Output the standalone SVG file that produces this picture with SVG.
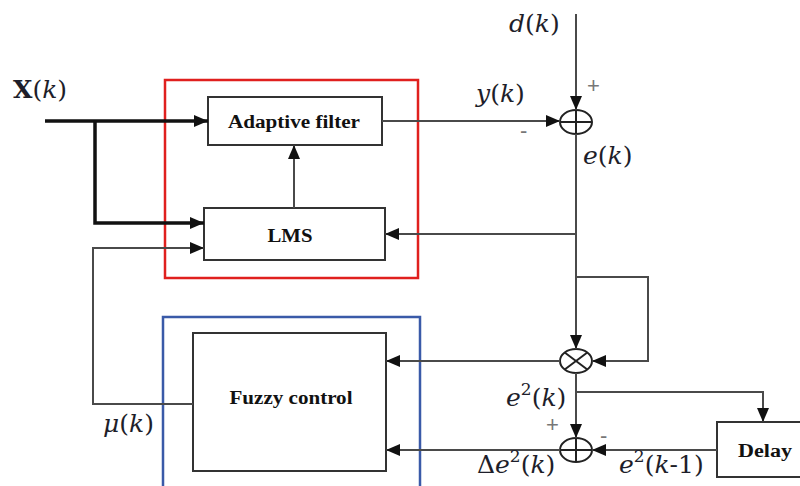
<svg xmlns="http://www.w3.org/2000/svg" width="800" height="486" viewBox="0 0 800 486">
<defs>
<marker id="ah" viewBox="0 0 14 12" refX="14" refY="6" markerWidth="14" markerHeight="12" markerUnits="userSpaceOnUse" orient="auto"><path d="M0,0 L14,6 L0,12 Z" fill="#111"/></marker>
<style>
.box{fill:#fff;stroke:#333;stroke-width:2}
.ln{fill:none;stroke:#4a4a4a;stroke-width:2}
.thick{fill:none;stroke:#111;stroke-width:3.5}
.bt{font-family:"Liberation Serif",serif;font-weight:bold;font-size:18px;fill:#111;text-anchor:middle}
.m{font-family:"DejaVu Serif","Liberation Serif",serif;font-style:italic;font-size:25px;fill:#1e1e2a}
.u{font-style:normal}
.sg{font-family:"Liberation Sans",sans-serif;font-size:22px;fill:#777}
</style>
</defs>
<rect width="800" height="486" fill="#fff"/>
<g id="lms-group"><rect x="165" y="80" width="253" height="198" fill="none" stroke="#e0201e" stroke-width="2.5"/></g>
<g id="fuzzy-group"><rect x="163" y="317" width="257" height="190" fill="none" stroke="#3a5aa8" stroke-width="2.5"/></g>
<g id="adaptive-filter"><rect class="box" x="208" y="97" width="174" height="48"/><text class="bt" x="294" y="128" textLength="132" lengthAdjust="spacingAndGlyphs">Adaptive filter</text></g>
<g id="lms"><rect class="box" x="204" y="208" width="181" height="52"/><text class="bt" x="290" y="242" textLength="45" lengthAdjust="spacingAndGlyphs">LMS</text></g>
<g id="fuzzy-control"><rect class="box" x="193" y="333" width="193" height="138"/><text class="bt" x="291" y="404" textLength="123" lengthAdjust="spacingAndGlyphs">Fuzzy control</text></g>
<g id="delay"><rect class="box" x="717" y="422" width="100" height="55"/><text class="bt" x="765" y="457" textLength="54" lengthAdjust="spacingAndGlyphs">Delay</text></g>
<g id="sum1"><ellipse cx="576" cy="122" rx="16" ry="12" fill="#fff" stroke="#222" stroke-width="2"/><path d="M560 122 H592 M576 110 V134" stroke="#222" stroke-width="2"/></g>
<g id="multiplier"><ellipse cx="576" cy="361" rx="16" ry="12" fill="#fff" stroke="#222" stroke-width="2"/><path d="M564.7 352.5 L587.3 369.5 M587.3 352.5 L564.7 369.5" stroke="#222" stroke-width="2"/></g>
<g id="sum2"><ellipse cx="576" cy="450" rx="16" ry="12" fill="#fff" stroke="#222" stroke-width="2"/><path d="M560 450 H592 M576 438 V462" stroke="#222" stroke-width="2"/></g>
<g id="connectors">
<path class="thick" d="M45 121 H208" marker-end="url(#ah)"/>
<path class="thick" d="M95 121 V223 H204" marker-end="url(#ah)"/>
<path class="ln" d="M382 121 H560" marker-end="url(#ah)"/>
<path class="ln" d="M576 14 V110" marker-end="url(#ah)"/>
<path class="ln" d="M576 134 V349" marker-end="url(#ah)"/>
<path class="ln" d="M576 234 H385" marker-end="url(#ah)"/>
<path class="ln" d="M576 277 H648 V361 H592" marker-end="url(#ah)"/>
<path class="ln" d="M560 361 H386" marker-end="url(#ah)"/>
<path class="ln" d="M576 373 V438" marker-end="url(#ah)"/>
<path class="ln" d="M576 392 H763 V422" marker-end="url(#ah)"/>
<path class="ln" d="M717 450 H592" marker-end="url(#ah)"/>
<path class="ln" d="M560 450 H386" marker-end="url(#ah)"/>
<path class="ln" d="M193 404 H93 V248 H204" marker-end="url(#ah)"/>
<path class="ln" d="M294 208 V145" marker-end="url(#ah)"/>
</g>
<g id="labels">
<text class="m" x="13" y="98"><tspan class="u" font-weight="bold">X</tspan><tspan class="u">(</tspan>k<tspan class="u">)</tspan></text>
<text class="m" x="509" y="32">d<tspan class="u">(</tspan>k<tspan class="u">)</tspan></text>
<text class="m" x="476" y="102">y<tspan class="u">(</tspan>k<tspan class="u">)</tspan></text>
<text class="m" x="583" y="164">e<tspan class="u">(</tspan>k<tspan class="u">)</tspan></text>
<text class="m" x="506" y="406">e<tspan class="u" font-size="17" dy="-11">2</tspan><tspan class="u" dy="11">(</tspan>k<tspan class="u">)</tspan></text>
<text class="m" x="477" y="473"><tspan class="u">Δ</tspan>e<tspan class="u" font-size="17" dy="-11">2</tspan><tspan class="u" dy="11">(</tspan>k<tspan class="u">)</tspan></text>
<text class="m" x="619" y="473">e<tspan class="u" font-size="17" dy="-11">2</tspan><tspan class="u" dy="11">(</tspan>k<tspan class="u">-1)</tspan></text>
<text class="m" x="103" y="432">μ<tspan class="u">(</tspan>k<tspan class="u">)</tspan></text>
<text class="sg" x="587" y="93">+</text>
<text class="sg" x="520" y="138">-</text>
<text class="sg" x="546" y="432">+</text>
<text class="sg" x="600" y="443">-</text>
</g>
</svg>
